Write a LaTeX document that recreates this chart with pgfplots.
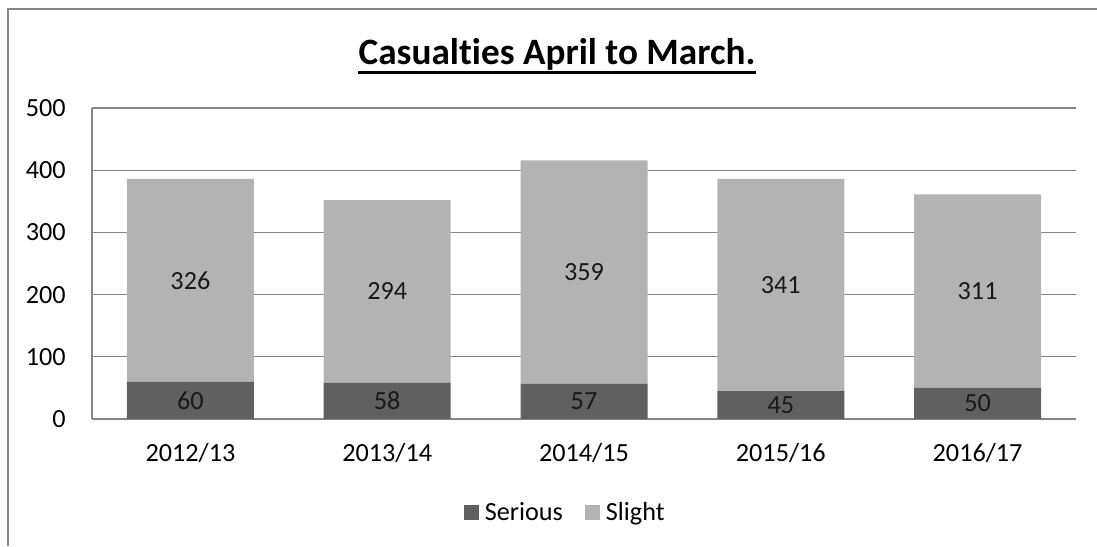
\documentclass[border=0pt]{standalone}
\usepackage{pgfplots}
\pgfplotsset{compat=1.18}
\usepackage{fontspec}
\setmainfont{Carlito}[Ligatures=NoCommon]
\definecolor{serious}{HTML}{606060}
\definecolor{slight}{HTML}{B3B3B3}
\definecolor{gridc}{HTML}{868686}
\pgfplotsset{
  myaxis/.style={
    at={(46pt,63.5pt)}, anchor=south west,
    scale only axis, width=492pt, height=155.5pt,
    xmin=-0.5, xmax=4.5, ymin=0, ymax=500,
  }
}
\begin{document}
\begin{tikzpicture}
\path[use as bounding box] (0,0) rectangle (548.5pt,273pt);
\draw[gridc, line width=1pt] (4pt,0) -- (4pt,268.5pt) -- (548.5pt,268.5pt);
\node[inner sep=0, anchor=base, font=\fontsize{18.6}{22}\selectfont\bfseries] (t) at (278.5pt,240.5pt) {Casualties April to March.};
\draw[line width=1.4pt] ([yshift=-3.6pt]t.base west) -- ([yshift=-3.6pt]t.base east);
\begin{axis}[
  myaxis,
  ybar stacked, bar width=63.5pt,
  xtick={0,1,2,3,4},
  xticklabels={2012/13,2013/14,2014/15,2015/16,2016/17},
  ytick={0,100,200,300,400,500},
  axis x line*=bottom, axis y line*=left,
  axis line style={gridc, line width=0.6pt, -},
  ymajorgrids, grid style={gridc, line width=0.6pt},
  major tick length=0pt,
  tick style={draw=none},
  /pgf/number format/assume math mode=true,
  ticklabel style={font=\fontsize{13.1}{15}\selectfont, inner sep=0pt},
  yticklabel style={anchor=east, xshift=-13pt},
  xticklabel style={anchor=north, yshift=-12pt},
  legend columns=2,
  legend style={at={(0.482,-0.302)}, anchor=center, draw=none, font=\fontsize{13.1}{15}\selectfont, /tikz/every even column/.append style={column sep=9pt}, /tikz/every odd column/.append style={}},
  legend image code/.code={\fill[#1] (0pt,-3.75pt) rectangle (7.5pt,3.75pt);},
]
\addplot[fill=serious, draw=none] coordinates {(0,60) (1,58) (2,57) (3,45) (4,50)};
\addlegendentry{\hspace{1pt}Serious}
\addplot[fill=slight, draw=none] coordinates {(0,326) (1,294) (2,359) (3,341) (4,311)};
\addlegendentry{\hspace{1pt}Slight}
\end{axis}
\begin{axis}[
  myaxis, hide axis,
  nodes near coords,
  point meta=explicit symbolic,
  every node near coord/.style={anchor=center, inner sep=0pt, font=\fontsize{13.1}{15}\selectfont, text=black!90},
]
\addplot[only marks, mark=none] coordinates {
  (0,30) [60] (1,29) [58] (2,28.5) [57] (3,22.5) [45] (4,25) [50]
  (0,223) [326] (1,205) [294] (2,236.5) [359] (3,215.5) [341] (4,205.5) [311]
};
\end{axis}
\end{tikzpicture}
\end{document}
